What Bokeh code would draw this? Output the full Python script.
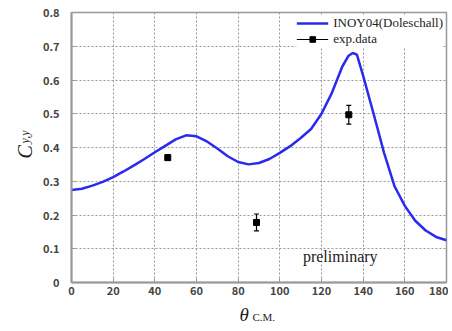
import math
from bokeh.plotting import figure
from bokeh.models import ColumnDataSource, Label, Legend, LegendItem, FixedTicker
from bokeh.embed import file_html
from bokeh.resources import INLINE

# ---- data ----
theta = [0, 5, 10, 15, 20, 25, 30, 35, 40, 45, 50, 55, 60, 65, 70, 75, 80, 85, 90,
         95, 100, 105, 110, 115, 120, 125, 130, 133, 135, 137, 140, 145, 150, 155,
         160, 165, 170, 175, 180]
cyy = [0.274, 0.278, 0.287, 0.298, 0.312, 0.329, 0.347, 0.366, 0.386, 0.405, 0.424,
       0.436, 0.433, 0.418, 0.397, 0.374, 0.357, 0.350, 0.354, 0.366, 0.384, 0.404,
       0.428, 0.455, 0.50, 0.562, 0.640, 0.672, 0.680, 0.675, 0.612, 0.500, 0.385,
       0.286, 0.227, 0.183, 0.154, 0.135, 0.125]

exp_theta = [46.2, 88.8, 133.1]
exp_cyy = [0.370, 0.178, 0.497]
exp_err = [0.008, 0.025, 0.028]

x_ticks = [0, 20, 40, 60, 80, 100, 120, 140, 160, 180]
y_ticks = [0, 0.1, 0.2, 0.3, 0.4, 0.5, 0.6, 0.7, 0.8]
y_tick_labels = ["0", "0.1", "0.2", "0.3", "0.4", "0.5", "0.6", "0.7", "0.8"]

model_label = "INOY04(Doleschall)"
exp_label = "exp.data"
note = "preliminary"

# ---- figure ----
W, H = 448, 330
p = figure(width=W, height=H, x_range=(0, 180), y_range=(0, 0.8),
           output_backend="svg", toolbar_location=None,
           min_border_left=71, min_border_right=2, min_border_top=12,
           min_border_bottom=46)
p.background_fill_color = "white"
p.border_fill_color = "white"
p.outline_line_color = "#999999"
p.outline_line_width = 1.5

for ax in (p.xaxis[0], p.yaxis[0]):
    ax.axis_line_color = "#999999"
    ax.axis_line_width = 2
    ax.major_tick_line_color = "#999999"
    ax.major_tick_in = 4
    ax.major_tick_out = 0
    ax.minor_tick_line_color = None
    ax.major_label_text_font = "Noto Sans CJK JP"
    ax.major_label_text_font_style = "bold"
    ax.major_label_text_font_size = "11px"
    ax.major_label_text_color = "#444444"

p.xaxis.ticker = FixedTicker(ticks=x_ticks)
p.yaxis.ticker = FixedTicker(ticks=y_ticks)
p.yaxis.major_label_overrides = {t: l for t, l in zip(y_ticks, y_tick_labels)}
p.xaxis.major_label_standoff = 3
p.yaxis.major_label_standoff = 12

p.grid.grid_line_color = "#999999"
p.grid.grid_line_alpha = 1.0
p.grid.grid_line_dash = "2 2"
p.grid.grid_line_width = 1

# model curve
src = ColumnDataSource(dict(x=theta, y=cyy))
r_line = p.line("x", "y", source=src, line_color="#2a2aee", line_width=2.5)

# experimental data with error bars
lo = [v - e for v, e in zip(exp_cyy, exp_err)]
hi = [v + e for v, e in zip(exp_cyy, exp_err)]
esrc = ColumnDataSource(dict(x=exp_theta, y=exp_cyy, lo=lo, hi=hi))
r_seg = p.segment(x0="x", y0="lo", x1="x", y1="hi", source=esrc,
                  line_color="black", line_width=1.2)
p.scatter("x", "lo", source=esrc, marker="dash", size=5, line_color="black", line_width=1.2)
p.scatter("x", "hi", source=esrc, marker="dash", size=5, line_color="black", line_width=1.2)
r_pts = p.scatter("x", "y", source=esrc, marker="square", size=6,
                  fill_color="black", line_color="black")

legend = Legend(items=[LegendItem(label=model_label, renderers=[r_line]),
                       LegendItem(label=exp_label, renderers=[r_seg, r_pts])],
                location="top_right")
legend.label_text_font = "Liberation Serif"
legend.label_text_font_size = "13px"
legend.label_text_color = "#222222"
legend.border_line_color = None
legend.background_fill_color = "white"
legend.background_fill_alpha = 1.0
legend.spacing = -4
legend.padding = 2
legend.margin = 3
legend.glyph_width = 32
legend.label_height = 14
legend.glyph_height = 14
p.add_layout(legend)

# "preliminary" note
p.add_layout(Label(x=129, y=0.077, text=note, text_align="center",
                   text_baseline="alphabetic", text_font="Liberation Serif",
                   text_font_size="16px", text_color="#222222"))

# axis titles (built from text pieces), placed in side panels so they are not clipped
p.add_layout(Label(x=168, y=4, x_units="screen", y_units="screen", text="θ",
                   text_font="Liberation Serif", text_font_style="italic",
                   text_font_size="19px", text_color="#222222",
                   text_baseline="alphabetic"), "below")
p.add_layout(Label(x=181, y=14, x_units="screen", y_units="screen", text="C.M.",
                   text_font="Liberation Serif", text_font_size="11px",
                   text_color="#222222", text_baseline="alphabetic"), "below")
p.add_layout(Label(x=7, y=124, x_units="screen", y_units="screen", text="C",
                   angle=math.pi / 2, text_font="Liberation Serif",
                   text_font_style="italic", text_font_size="20px",
                   text_color="#222222", text_baseline="alphabetic"), "left")
p.add_layout(Label(x=21, y=139, x_units="screen", y_units="screen", text="y,y",
                   angle=math.pi / 2, text_font="Liberation Serif",
                   text_font_style="italic", text_font_size="12px",
                   text_color="#222222", text_baseline="alphabetic"), "left")

open("out.html", "w").write(file_html(p, INLINE))
